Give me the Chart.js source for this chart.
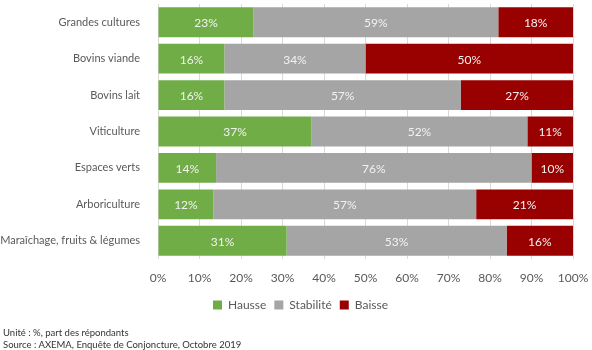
<!DOCTYPE html>
<html>
<head>
<meta charset="utf-8">
<script src="https://cdn.jsdelivr.net/npm/chart.js@4/dist/chart.umd.min.js"></script>
<style>
  body { margin: 0; background: #fff; }
  #wrap { position: relative; width: 592px; height: 350px; }
  .note { position: absolute; left: 3px; font-family: Lato, sans-serif; font-size: 9.5px; color: #333; }
</style>
</head>
<body>
<div id="wrap">
  <canvas id="barres" width="592" height="350"></canvas>
  <div class="note" style="top:327px">Unité : %, part des répondants</div>
  <div class="note" style="top:339px">Source : AXEMA, Enquête de Conjoncture, Octobre 2019</div>
</div>
<script>
// filières interrogées
let filieres = ["Grandes cultures", "Bovins viande", "Bovins lait", "Viticulture", "Espaces verts", "Arboriculture", "Maraîchage, fruits & légumes"];
// réponses en % (barres ramenées à 100%)
let hausse = [23, 16, 16, 37, 14, 12, 31];
let stabilite = [59, 34, 57, 52, 76, 57, 53];
let baisse = [18, 50, 27, 11, 10, 21, 16];
let ticksX = [0, 10, 20, 30, 40, 50, 60, 70, 80, 90, 100];

let totaux = filieres.map((f, i) => hausse[i] + stabilite[i] + baisse[i]);
let part = arr => arr.map((v, i) => v / totaux[i] * 100);

// étiquettes dans les barres
let etiquettes = {
  id: 'etiquettes',
  afterLayout(chart) {
    // légende un peu décalée vers la droite comme dans l'original
    chart.legend.left += 14;
    chart.legend.right += 14;
  },
  afterDatasetsDraw(chart) {
    let ctx = chart.ctx;
    ctx.save();
    ctx.font = '12px Lato';
    ctx.fillStyle = '#f2f2f2';
    ctx.textAlign = 'center';
    ctx.textBaseline = 'middle';
    chart.data.datasets.forEach((ds, d) => {
      chart.getDatasetMeta(d).data.forEach((bar, i) => {
        ctx.fillText(ds.brut[i] + '%', (bar.x + bar.base) / 2, bar.y + 1);
      });
    });
    ctx.restore();
  }
};

let popCanvas = document.getElementById("barres").getContext("2d");
Chart.defaults.font.family = 'Lato';
Chart.defaults.color = '#595959';

let chart = new Chart(popCanvas, {
  type: 'bar',
  data: {
    labels: filieres,
    datasets: [
      { label: 'Hausse', data: part(hausse), brut: hausse, backgroundColor: '#70ad47' },
      { label: 'Stabilité', data: part(stabilite), brut: stabilite, backgroundColor: '#a5a5a5' },
      { label: 'Baisse', data: part(baisse), brut: baisse, backgroundColor: '#990000' }
    ]
  },
  options: {
    responsive: false,
    animation: false,
    indexAxis: 'y',
    categoryPercentage: 1,
    barPercentage: 0.82,
    layout: { padding: { top: 4, right: 19, bottom: 29, left: 0 } },
    scales: {
      x: {
        stacked: true,
        min: 0, max: 100,
        afterBuildTicks: s => { s.ticks = ticksX.map(v => ({ value: v })); },
        afterFit: s => { s.height = 32; s.paddingLeft = 0; s.paddingRight = 0; },
        ticks: { callback: v => v + '%', font: { size: 12 }, padding: 12 },
        grid: { color: '#d9d9d9', drawTicks: false },
        border: { display: false }
      },
      y: {
        stacked: true,
        afterFit: s => { s.width = 158; s.paddingTop = 0; s.paddingBottom = 0; },
        ticks: { font: { size: 11 }, padding: 10 },
        grid: { display: false },
        border: { display: false }
      }
    },
    plugins: {
      legend: {
        position: 'bottom',
        labels: { boxWidth: 9, boxHeight: 9, font: { size: 12 }, padding: 8 }
      },
      tooltip: { enabled: false }
    }
  },
  plugins: [etiquettes]
});
</script>
</body>
</html>
